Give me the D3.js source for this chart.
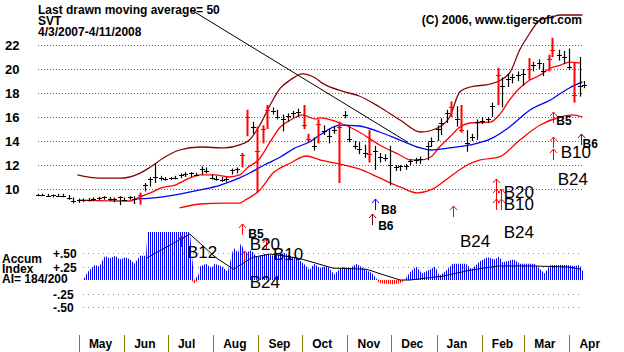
<!DOCTYPE html>
<html>
<head>
<meta charset="utf-8">
<script src="https://cdn.jsdelivr.net/npm/d3@7"></script>
<style>
  body { margin: 0; background: #fff; }
  svg text { font-family: "Liberation Sans", Arial, sans-serif; }
</style>
</head>
<body>
<div id="chart"></div>
<script>
// daily-ish price bars: date, high, low, close
var priceBars = [
  ["2007-04-03",9.6,9.4,9.5], ["2007-04-06",9.6,9.4,9.5], ["2007-04-10",9.6,9.35,9.45], ["2007-04-13",9.55,9.3,9.5],
  ["2007-04-17",9.6,9.35,9.45], ["2007-04-20",9.6,9.3,9.4], ["2007-04-24",9.5,9.1,9.25], ["2007-04-27",9.3,8.8,9.0],
  ["2007-05-01",9.2,8.85,9.05], ["2007-05-04",9.2,8.9,9.1], ["2007-05-08",9.25,8.95,9.1], ["2007-05-11",9.3,9.0,9.2],
  ["2007-05-15",9.35,9.05,9.25], ["2007-05-18",9.4,9.1,9.3], ["2007-05-22",9.35,9.0,9.15], ["2007-05-25",9.3,8.9,9.2],
  ["2007-05-29",9.4,8.65,9.3], ["2007-06-01",9.3,9.0,9.1], ["2007-06-05",9.4,9.1,9.3], ["2007-06-08",9.4,8.75,9.2],
  ["2007-06-12",9.7,8.7,9.5], ["2007-06-15",10.5,9.8,10.3], ["2007-06-19",11.0,10.2,10.8], ["2007-06-22",12.1,10.5,11.0],
  ["2007-06-26",11.1,10.7,10.9], ["2007-06-29",11.0,10.7,10.85], ["2007-07-03",11.0,10.75,10.9], ["2007-07-06",11.1,10.8,10.95],
  ["2007-07-10",11.3,10.9,11.2], ["2007-07-13",11.4,11.0,11.25], ["2007-07-17",11.4,11.0,11.3], ["2007-07-20",11.35,11.05,11.2],
  ["2007-07-24",11.9,11.2,11.7], ["2007-07-27",11.8,11.3,11.5], ["2007-07-31",11.2,10.8,10.9], ["2007-08-03",11.1,10.7,10.85],
  ["2007-08-07",11.0,10.6,10.75], ["2007-08-10",11.0,10.6,10.8], ["2007-08-14",11.7,11.2,11.6], ["2007-08-17",11.8,11.3,11.7],
  ["2007-08-21",13.0,11.8,12.8], ["2007-08-24",16.6,14.4,16.0], ["2007-08-28",15.6,14.6,15.2], ["2007-08-31",15.2,9.7,13.2],
  ["2007-09-04",15.3,13.8,15.0], ["2007-09-07",17.0,15.0,16.6], ["2007-09-11",16.8,16.2,16.5], ["2007-09-14",16.6,15.8,16.0],
  ["2007-09-18",16.2,14.8,15.8], ["2007-09-21",16.3,15.6,16.1], ["2007-09-25",16.5,15.9,16.3], ["2007-09-28",16.7,16.0,16.4],
  ["2007-10-02",17.0,15.0,15.3], ["2007-10-05",14.6,13.9,14.2], ["2007-10-09",14.3,13.2,13.6], ["2007-10-12",15.8,13.8,15.4],
  ["2007-10-16",15.3,14.5,14.8], ["2007-10-19",15.0,13.8,14.4], ["2007-10-23",15.2,14.6,14.9], ["2007-10-26",15.6,10.5,15.2],
  ["2007-10-30",16.5,15.9,16.2], ["2007-11-02",15.2,13.9,14.2], ["2007-11-06",14.0,13.3,13.6], ["2007-11-09",13.9,12.9,13.3],
  ["2007-11-13",13.7,12.6,13.0], ["2007-11-16",14.9,12.2,12.9], ["2007-11-20",13.6,11.6,13.2], ["2007-11-23",13.0,12.2,12.7],
  ["2007-11-27",12.9,12.3,12.6], ["2007-11-30",13.6,10.3,12.0], ["2007-12-04",12.0,11.5,11.8], ["2007-12-07",12.0,11.5,11.9],
  ["2007-12-11",12.1,11.6,11.9], ["2007-12-14",12.5,12.0,12.3], ["2007-12-18",12.6,12.1,12.4], ["2007-12-21",12.7,12.1,12.5],
  ["2007-12-26",13.9,12.4,13.6], ["2007-12-28",14.3,13.5,14.0], ["2008-01-02",15.3,14.0,15.0], ["2008-01-04",15.9,14.5,15.5],
  ["2008-01-08",16.6,15.5,16.3], ["2008-01-11",17.3,16.0,16.8], ["2008-01-15",16.9,15.2,15.8], ["2008-01-18",17.0,14.7,14.9],
  ["2008-01-22",14.9,13.1,13.8], ["2008-01-25",14.6,14.0,14.3], ["2008-01-29",15.8,14.1,15.6], ["2008-02-01",16.0,15.4,15.7],
  ["2008-02-05",16.0,15.5,15.8], ["2008-02-08",17.2,16.0,16.9], ["2008-02-12",20.1,17.0,19.5], ["2008-02-15",19.3,16.8,18.6],
  ["2008-02-19",19.6,18.5,19.2], ["2008-02-22",19.6,18.8,19.3], ["2008-02-26",19.8,19.0,19.5], ["2008-02-29",20.0,18.6,19.6],
  ["2008-03-04",20.9,19.1,20.0], ["2008-03-07",20.6,19.8,20.3], ["2008-03-11",20.8,20.0,20.5], ["2008-03-14",20.5,19.4,19.8],
  ["2008-03-18",21.2,19.8,20.8], ["2008-03-20",22.6,21.0,21.6], ["2008-03-25",21.6,20.7,21.2], ["2008-03-28",21.5,20.4,21.0],
  ["2008-04-01",21.7,19.9,20.2], ["2008-04-04",20.5,17.2,17.8], ["2008-04-08",21.0,17.7,18.6], ["2008-04-11",19.0,18.4,18.7]
];
// big-move days shown in red
var redDays = ["2007-06-12","2007-08-21","2007-08-24","2007-08-31","2007-09-04","2007-09-07","2007-10-02","2007-10-05",
  "2007-10-12","2007-10-26","2007-11-16","2008-01-11","2008-01-18","2008-02-12","2008-03-04","2008-03-18","2008-03-20","2008-04-04"];

var upperBand = [["2007-04-30",11.17],["2007-05-15",10.9],["2007-05-29",10.9],["2007-06-12",11.33],["2007-06-19",11.83],
  ["2007-06-29",12.67],["2007-07-09",13.25],["2007-07-23",13.5],["2007-08-09",13.42],["2007-08-19",13.67],["2007-08-26",14.1],
  ["2007-09-02",15.33],["2007-09-09",17.0],["2007-09-16",18.4],["2007-09-23",19.1],["2007-10-01",19.6],["2007-10-10",19.25],
  ["2007-10-15",18.8],["2007-10-30",18.1],["2007-11-09",17.75],["2007-11-23",16.83],["2007-12-07",15.75],["2007-12-21",14.75],
  ["2008-01-03",15.17],["2008-01-10",16.0],["2008-01-17",18.1],["2008-01-24",18.5],["2008-02-07",18.75],["2008-02-20",19.67],
  ["2008-02-27",21.6],["2008-03-05",23.0],["2008-03-12",24.1],["2008-03-19",24.3],["2008-03-26",24.5],["2008-04-10",24.5]];
var innerBand = [["2007-05-02",9.08],["2007-06-05",9.0],["2007-06-10",9.25],["2007-06-19",9.67],["2007-06-26",10.08],
  ["2007-07-06",10.33],["2007-07-16",10.92],["2007-07-23",11.17],["2007-08-02",11.17],["2007-08-12",11.0],["2007-08-19",11.17],
  ["2007-08-25",11.83],["2007-09-01",12.42],["2007-09-09",13.92],["2007-09-16",15.17],["2007-09-23",15.75],["2007-10-01",16.17],
  ["2007-10-10",15.83],["2007-10-13",15.92],["2007-10-27",15.5],["2007-11-09",14.75],["2007-11-23",13.67],["2007-12-07",12.83],
  ["2007-12-14",12.42],["2007-12-21",12.42],["2007-12-28",12.67],["2008-01-03",13.5],["2008-01-10",14.33],["2008-01-17",15.17],
  ["2008-01-24",15.5],["2008-02-07",15.58],["2008-02-13",16.17],["2008-02-20",17.42],["2008-02-27",18.42],["2008-03-05",19.08],
  ["2008-03-12",19.5],["2008-03-19",20.08],["2008-03-26",20.33],["2008-04-01",20.58],["2008-04-08",20.5]];
var ma50 = [["2007-06-10",9.17],["2007-06-26",9.33],["2007-07-09",9.58],["2007-07-23",9.92],["2007-08-06",10.33],
  ["2007-08-19",10.92],["2007-08-26",11.33],["2007-09-05",12.0],["2007-09-16",12.67],["2007-09-26",13.42],["2007-10-06",13.92],
  ["2007-10-13",14.5],["2007-10-27",15.33],["2007-11-09",15.25],["2007-11-23",14.75],["2007-12-07",14.08],["2007-12-21",13.42],
  ["2007-12-28",13.25],["2008-01-10",13.42],["2008-01-24",13.67],["2008-02-07",14.17],["2008-02-20",15.17],["2008-03-05",16.58],
  ["2008-03-19",17.42],["2008-04-01",18.42],["2008-04-10",18.92]];
var lowerBand = [["2007-07-09",8.42],["2007-07-23",8.75],["2007-08-09",8.83],["2007-08-19",8.83],["2007-08-23",9.08],
  ["2007-09-02",9.92],["2007-09-11",11.33],["2007-09-23",12.17],["2007-10-04",12.75],["2007-10-13",12.42],["2007-10-27",12.08],
  ["2007-11-09",11.67],["2007-11-23",10.92],["2007-12-07",10.17],["2007-12-19",9.67],["2007-12-28",9.92],["2008-01-10",11.0],
  ["2008-01-22",12.0],["2008-01-31",12.42],["2008-02-13",12.67],["2008-02-27",14.08],["2008-03-12",15.33],["2008-03-26",16.0],
  ["2008-04-03",16.17],["2008-04-10",16.0]];

// accumulation index and its moving average
var accum = [["2007-05-04",0],["2007-05-07",0.15],["2007-05-12",0.28],["2007-05-15",0.25],["2007-05-19",0.45],
  ["2007-05-22",0.4],["2007-05-26",0.45],["2007-05-29",0.38],["2007-06-02",0.42],["2007-06-05",0.38],["2007-06-08",0.3],
  ["2007-06-12",0.45],["2007-06-16",0.45],["2007-06-17",0.89],["2007-07-16",0.89],["2007-07-17",0.6],["2007-07-19",-0.06],
  ["2007-07-22",0.1],["2007-07-23",0.25],["2007-07-27",0.3],["2007-07-31",0.22],["2007-08-02",0.3],["2007-08-07",0.25],
  ["2007-08-11",0.15],["2007-08-15",0.6],["2007-08-18",0.5],["2007-08-20",0.68],["2007-08-23",0.5],["2007-08-27",0.55],
  ["2007-08-31",0.42],["2007-09-05",0.48],["2007-09-12",0.45],["2007-09-19",0.5],["2007-09-26",0.4],["2007-09-29",0.37],
  ["2007-10-03",0.28],["2007-10-06",0.18],["2007-10-09",0.3],["2007-10-13",0.22],["2007-10-18",0.26],["2007-10-23",0.1],
  ["2007-10-28",0.24],["2007-11-03",0.22],["2007-11-07",0.3],["2007-11-13",0.2],["2007-11-18",0.12],["2007-11-21",0.02],
  ["2007-11-23",-0.06],["2007-12-02",-0.08],["2007-12-08",-0.05],["2007-12-10",0],["2007-12-14",0.15],["2007-12-18",0.25],
  ["2007-12-22",0.12],["2007-12-28",0.2],["2007-12-31",0.25],["2008-01-03",0.08],["2008-01-08",0.18],["2008-01-12",0.3],
  ["2008-01-21",0.3],["2008-01-25",0.2],["2008-01-31",0.35],["2008-02-05",0.42],["2008-02-10",0.38],["2008-02-13",0.44],
  ["2008-02-15",0.33],["2008-02-23",0.38],["2008-02-27",0.3],["2008-03-08",0.3],["2008-03-15",0.12],["2008-03-19",0.28],
  ["2008-03-30",0.28],["2008-04-05",0.26],["2008-04-08",0.28],["2008-04-11",0.12]];
var accumMa = [["2007-06-16",0.4],["2007-07-16",0.85],["2007-07-23",0.68],["2007-08-03",0.41],["2007-08-15",0.2],
  ["2007-08-28",0.42],["2007-09-09",0.48],["2007-09-20",0.44],["2007-09-29",0.4],["2007-10-22",0.22],["2007-11-14",0.2],
  ["2007-11-24",0.11],["2007-12-07",0],["2007-12-14",0],["2008-01-05",0.07],["2008-01-22",0.17],["2008-02-02",0.22],
  ["2008-02-13",0.26],["2008-03-07",0.26],["2008-03-31",0.24],["2008-04-09",0.2]];

var trendLine = [["2007-07-17",24.92],["2007-12-12",13.92]];

var priceTicks = [10, 12, 14, 16, 18, 20, 22];
var accumTicks = [0.5, 0.25, -0.25, -0.5];
var accumTickLabels = ["+.50", "+.25", "-.25", "-.50"];
var monthStarts = ["2007-05-01","2007-06-01","2007-07-01","2007-08-01","2007-09-01","2007-10-01","2007-11-01",
  "2007-12-01","2008-01-01","2008-02-01","2008-03-01","2008-04-01"];
var monthNames = ["May","Jun","Jul","Aug","Sep","Oct","Nov","Dec","Jan","Feb","Mar","Apr"];

// signal arrows: date, price level of arrow foot, kind
var arrowDates = ["2007-11-20","2007-11-18","2008-01-12","2008-02-11","2008-02-11","2008-02-11","2008-02-14","2008-02-14",
  "2008-03-21","2008-03-21","2008-03-21","2008-04-09","2007-07-10","2007-08-21","2007-08-22","2007-09-06"];
var arrowLevels = [8.25, 7.0, 7.67, 9.92, 9.08, 8.25, 9.08, 8.25, 15.5, 13.42, 12.42, 13.67, 5.17, 6.17, 3.92, 4.92];
var arrowKinds = ["B8","B6","buy","buy","buy","buy","buy","buy","buy","buy","buy","B6","buy","buy","buy","buy"];

// signal labels: text, date, baseline level, size
var labelTexts = ["B8","B6","B20","B10","B24","B24","B5","B10","B6","B24","B12","B5","B20","B10","B24"];
var labelDates = ["2007-11-24","2007-11-22","2008-02-16","2008-02-16","2008-02-16","2008-01-17","2008-03-23","2008-03-26",
  "2008-04-10","2008-03-24","2007-07-14","2007-08-25","2007-08-26","2007-09-11","2007-08-26"];
var labelLevels = [7.92, 6.58, 9.25, 8.25, 5.92, 5.17, 15.33, 12.58, 13.42, 10.33, 4.25, 5.92, 4.92, 4.08, 1.75];
var labelSizes = ["s","s","b","b","b","b","s","b","s","b","b","s","b","b","b"];

var width = 624, height = 352;
var parse = d3.timeParse("%Y-%m-%d");

var svg = d3.select("#chart").append("svg")
    .attr("width", width)
    .attr("height", height)
    .style("background", "#fff");

var x = d3.scaleTime()
    .domain([parse("2007-04-03"), parse("2008-04-11")])
    .range([38, 584]);
var y = d3.scaleLinear().domain([10, 22]).range([189, 45]);
var ya = d3.scaleLinear().domain([-0.5, 0.5]).range([307, 253]);

// stripe patterns for the accumulation bars
var defs = svg.append("defs");
[["stripeBlue", "#0000ff"], ["stripeRed", "#ff0000"]].forEach(function(p) {
  defs.append("pattern")
      .attr("id", p[0])
      .attr("patternUnits", "userSpaceOnUse")
      .attr("width", 2).attr("height", 10)
    .append("rect")
      .attr("width", 1).attr("height", 10)
      .attr("fill", p[1]);
});

// price gridlines + labels
svg.append("g").selectAll("line")
  .data(priceTicks).enter().append("line")
    .attr("x1", 38).attr("x2", 583)
    .attr("y1", function(d) { return Math.round(y(d)) + 0.5; })
    .attr("y2", function(d) { return Math.round(y(d)) + 0.5; })
    .attr("stroke", "#2e8b2e")
    .attr("stroke-dasharray", "1,2");

svg.append("g").selectAll("text")
  .data(priceTicks).enter().append("text")
    .attr("x", 5)
    .attr("y", function(d) { return y(d) + 5; })
    .attr("font-size", "13px")
    .attr("font-weight", "bold")
    .text(function(d) { return d; });

// accum gridlines + labels
svg.append("g").selectAll("line")
  .data(accumTicks).enter().append("line")
    .attr("x1", 83).attr("x2", 583)
    .attr("y1", function(d) { return Math.round(ya(d)) + 0.5; })
    .attr("y2", function(d) { return Math.round(ya(d)) + 0.5; })
    .attr("stroke", function(d) { return d == 0.5 || d == -0.25 ? "#c08080" : "#909090"; })
    .attr("stroke-dasharray", "1,4");

svg.append("g").selectAll("text")
  .data(accumTicks).enter().append("text")
    .attr("x", 53)
    .attr("y", function(d) { return ya(d) + 5; })
    .attr("font-size", "12px")
    .attr("font-weight", "bold")
    .text(function(d, i) { return accumTickLabels[i]; });

var leftLabels = ["Accum", "Index", "AI= 184/200"];
svg.append("g").selectAll("text")
  .data(leftLabels).enter().append("text")
    .attr("x", 2)
    .attr("y", function(d, i) { return 263 + i * 10; })
    .attr("font-size", "12px")
    .attr("font-weight", "bold")
    .text(function(d) { return d; });

// accumulation area (stripes)
var acc = accum.map(function(d) { return {date: parse(d[0]), v: d[1]}; });
svg.append("path")
    .datum(acc)
    .attr("fill", "url(#stripeBlue)")
    .attr("d", d3.area()
      .x(function(d) { return x(d.date); })
      .y0(ya(0))
      .y1(function(d) { return ya(Math.max(0, d.v)); }));
svg.append("path")
    .datum(acc)
    .attr("fill", "url(#stripeRed)")
    .attr("d", d3.area()
      .x(function(d) { return x(d.date); })
      .y0(ya(0))
      .y1(function(d) { return ya(Math.min(0, d.v)); }));

svg.append("path")
    .datum(accumMa.map(function(d) { return {date: parse(d[0]), v: d[1]}; }))
    .attr("fill", "none")
    .attr("stroke", "#000")
    .attr("stroke-width", 1)
    .attr("d", d3.line()
      .x(function(d) { return x(d.date); })
      .y(function(d) { return ya(d.v); }));

// bands and moving average
var bandLine = d3.line()
    .curve(d3.curveMonotoneX)
    .x(function(d) { return x(parse(d[0])); })
    .y(function(d) { return y(d[1]); });

var bands = [[upperBand, "#8b0000"], [innerBand, "#ff0000"], [ma50, "#0000ff"], [lowerBand, "#ff0000"]];
bands.forEach(function(b) {
  svg.append("path")
      .datum(b[0])
      .attr("fill", "none")
      .attr("stroke", b[1])
      .attr("stroke-width", 1.3)
      .attr("d", bandLine);
});

// the price bars
var bars = svg.append("g").selectAll("g")
  .data(priceBars).enter().append("g")
    .attr("stroke", function(d) { return redDays.indexOf(d[0]) >= 0 ? "#ff0000" : "#000"; })
    .attr("stroke-width", function(d) { return redDays.indexOf(d[0]) >= 0 ? 2 : 1.2; });

bars.append("line")
    .attr("x1", function(d) { return Math.round(x(parse(d[0]))) + 0.5; })
    .attr("x2", function(d) { return Math.round(x(parse(d[0]))) + 0.5; })
    .attr("y1", function(d) { return y(d[1]); })
    .attr("y2", function(d) { return y(d[2]); });

bars.append("line")
    .attr("x1", function(d) { return Math.round(x(parse(d[0]))) - 2; })
    .attr("x2", function(d) { return Math.round(x(parse(d[0]))) + 3; })
    .attr("y1", function(d) { return Math.round(y(d[3])) + 0.5; })
    .attr("y2", function(d) { return Math.round(y(d[3])) + 0.5; })
    .attr("stroke-width", 1);

// trend line from the title
svg.append("line")
    .attr("x1", x(parse(trendLine[0][0]))).attr("y1", y(trendLine[0][1]))
    .attr("x2", x(parse(trendLine[1][0]))).attr("y2", y(trendLine[1][1]))
    .attr("stroke", "#000")
    .attr("stroke-width", 1);

// signal arrows
var arrowColor = {buy: "#ff0000", B8: "#0000ff", B6: "#800000"};
svg.append("g").selectAll("path")
  .data(arrowDates).enter().append("path")
    .attr("fill", "none")
    .attr("stroke", function(d, i) { return arrowColor[arrowKinds[i]]; })
    .attr("stroke-width", 1)
    .attr("d", function(d, i) {
      var ax = Math.round(x(parse(d))) + 0.5, ay = y(arrowLevels[i]);
      return "M" + ax + "," + ay + "V" + (ay - 11) +
        "M" + (ax - 3.5) + "," + (ay - 7) + "L" + ax + "," + (ay - 11) + "L" + (ax + 3.5) + "," + (ay - 7);
    });

svg.append("g").selectAll("text")
  .data(labelTexts).enter().append("text")
    .attr("x", function(d, i) { return x(parse(labelDates[i])); })
    .attr("y", function(d, i) { return y(labelLevels[i]); })
    .attr("font-size", function(d, i) { return labelSizes[i] == "b" ? "17px" : "12px"; })
    .attr("font-weight", function(d, i) { return labelSizes[i] == "b" ? "normal" : "bold"; })
    .attr("fill", "#000")
    .text(function(d) { return d; });

// month ticks
svg.append("g").selectAll("line")
  .data(monthStarts).enter().append("line")
    .attr("x1", function(d) { return Math.round(x(parse(d))) + 0.5; })
    .attr("x2", function(d) { return Math.round(x(parse(d))) + 0.5; })
    .attr("y1", 335).attr("y2", 352)
    .attr("stroke", "#808000");

svg.append("g").selectAll("text")
  .data(monthStarts).enter().append("text")
    .attr("x", function(d) { return x(parse(d)) + 10; })
    .attr("y", 348)
    .attr("font-size", "12px")
    .attr("font-weight", "bold")
    .text(function(d, i) { return monthNames[i]; });

// titles
var titles = ["Last drawn moving average= 50", "SVT", "4/3/2007-4/11/2008"];
svg.append("g").selectAll("text")
  .data(titles).enter().append("text")
    .attr("x", 38)
    .attr("y", function(d, i) { return 14 + i * 11; })
    .attr("font-size", "12px")
    .attr("font-weight", "bold")
    .text(function(d) { return d; });

svg.append("text")
    .attr("x", 582)
    .attr("y", 24)
    .attr("text-anchor", "end")
    .attr("font-size", "12px")
    .attr("font-weight", "bold")
    .text("(C) 2006, www.tigersoft.com");
</script>
</body>
</html>
